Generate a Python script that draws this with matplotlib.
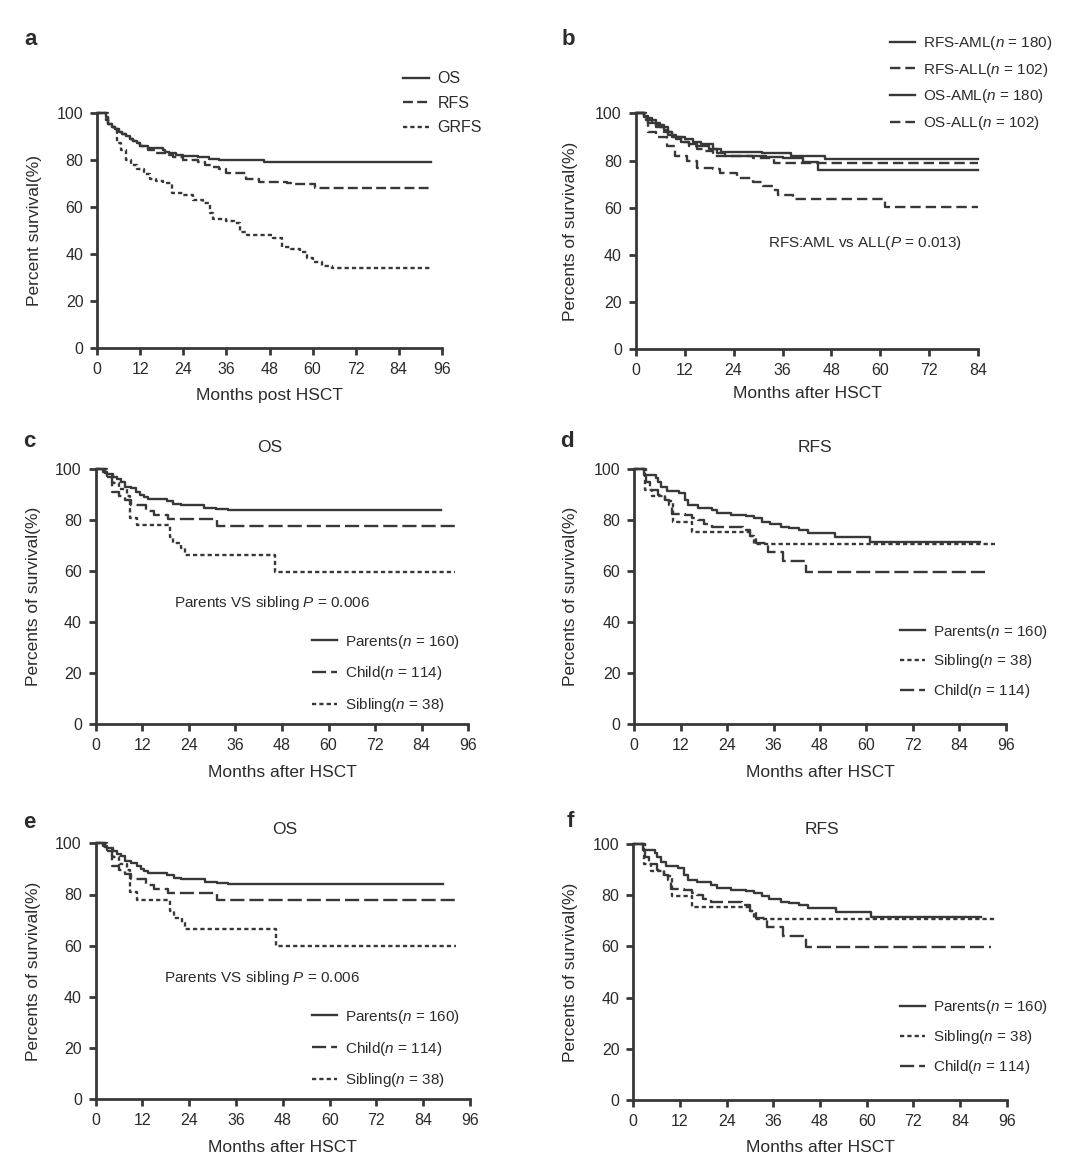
import matplotlib
matplotlib.use('Agg')
import matplotlib.pyplot as plt

# ---------------- data ----------------
# Panel a
a_os_t = [0, 2.5, 3, 4, 5, 6, 7, 8, 9, 10, 11, 12, 14, 18.4, 19, 20, 22, 24, 28, 31, 34, 46.5, 93]
a_os_s = [100, 98, 95, 94, 93, 92, 91, 90, 89, 88, 87, 86, 85, 84, 83.5, 83, 82, 81.5, 81, 80.5, 80, 79, 79]
a_rfs_t = [0, 2.5, 3, 4, 5, 6, 7, 8, 9, 10, 11, 12, 14, 16, 20, 21, 24, 28, 30, 32, 34, 36, 41.5, 45, 52.8, 55, 60.7, 93]
a_rfs_s = [100, 97, 95, 94, 93, 92, 91, 90, 89, 88, 87, 86, 84, 83, 82, 81, 80, 79, 78, 77, 76, 74.3, 72, 70.5, 70, 69.7, 68, 68]
a_grfs_t = [0, 3, 4, 5, 5.5, 6.5, 8, 9.5, 11, 13, 14.7, 16.5, 18.4, 20.7, 24, 26.8, 29.6, 31.5, 32.3, 36, 38,
            39.8, 41.6, 49, 51.4, 54, 56.5, 58.4, 60.2, 62.5, 65.3, 93]
a_grfs_s = [100, 95, 94, 93, 87, 84, 80, 78, 76, 74, 72, 71, 70, 66, 65, 63, 61.5, 57.5, 55, 54, 53,
            49.5, 48, 47, 43, 42, 41, 38.5, 36.5, 35, 34, 34]

# Panel b
b_os_aml_t = [0, 2, 3, 4, 5, 6, 7, 8, 9, 10, 12, 14, 16, 19, 21, 31, 38, 46.4, 84]
b_os_aml_s = [100, 99, 98, 97, 96, 95, 94, 92, 91, 90, 89, 88, 87, 85, 83.5, 83, 82, 80.5, 80.5]
b_rfs_aml_t = [0, 2, 3, 4, 5, 6, 7, 8, 9, 10, 11, 13, 15, 18, 20, 22, 32, 36, 41, 44.8, 84]
b_rfs_aml_s = [100, 98.5, 97, 96, 95, 94, 93, 91, 90, 89, 88, 87, 86, 85, 83, 82, 81.5, 81, 79.5, 76, 76]
b_os_all_t = [0, 2.5, 3, 5, 7, 9, 11, 13, 15, 17, 19, 28.8, 34, 84]
b_os_all_s = [100, 98, 96, 94, 92, 90, 88, 86, 85, 84, 82, 81, 79, 79]
b_rfs_all_t = [0, 2.5, 3.1, 5, 7.6, 9.6, 12.5, 15, 19, 20.7, 24.8, 28.8, 31.3, 33.7, 35, 38.6, 61.1, 84]
b_rfs_all_s = [100, 97, 92, 90, 86, 82, 80, 77, 76.5, 74.5, 72.5, 71, 69, 67.5, 65.5, 63.6, 60.5, 60.5]

# Panels c / e (OS by donor)
os_parents_t = [0, 2, 3, 4.5, 5.5, 6.5, 7.5, 9, 10.5, 11.5, 12.5, 13.5, 18.3, 20, 22, 28, 31, 34, 89]
os_parents_s = [100, 99, 98, 97, 96, 95, 93, 92.5, 91, 90, 89, 88.4, 87.5, 86.5, 86, 85, 84.5, 84, 84]
os_child_t = [0, 2.5, 4.1, 6, 7.5, 9, 13, 15, 18.5, 31.2, 92.5]
os_child_s = [100, 97, 91, 89.5, 88, 86, 83.6, 82, 80.4, 77.8, 77.8]
os_sibling_t = [0, 3, 4.5, 6, 8, 8.8, 10.6, 19.1, 20, 22.1, 23, 46.2, 92.5]
os_sibling_s = [100, 97.4, 94.7, 92.1, 89.5, 81, 78, 73.5, 71, 69, 66.5, 59.8, 59.8]

# Panels d / f (RFS by donor)
rfs_parents_t = [0, 2.5, 5.5, 6, 7, 8.5, 11.5, 13, 14, 16.5, 20, 21.5, 25, 29, 31, 33, 35, 38, 40, 42.5, 45, 52, 61, 89.4]
rfs_parents_s = [100, 97.8, 96.5, 95, 93, 91.5, 90.6, 88, 86, 85, 84, 83, 82, 81.5, 81, 79.5, 78.5, 77.5, 77, 76, 75, 73.5, 71.3, 71.3]
rfs_sibling_t = [0, 2.7, 4.5, 8, 10, 15, 30, 31, 93.3]
rfs_sibling_s = [100, 92, 89.5, 87.5, 79.5, 75.5, 74, 70.7, 70.7]
rfs_child_t = [0, 3, 4, 6, 8, 9, 9.8, 13, 15, 16.5, 18, 20, 28, 30, 31.5, 34.5, 38.5, 44.5, 92]
rfs_child_s = [100, 95, 92, 90, 88, 86, 82.3, 82, 81, 80, 78.5, 77.5, 76, 74, 71.2, 67.4, 64, 59.8, 59.8]

x_ticks_96 = [0, 12, 24, 36, 48, 60, 72, 84, 96]
x_ticks_84 = [0, 12, 24, 36, 48, 60, 72, 84]
y_ticks = [0, 20, 40, 60, 80, 100]

# ---------------- style ----------------
plt.rcParams.update({
    'font.family': ['Liberation Sans', 'DejaVu Sans'],
    'mathtext.fontset': 'custom',
    'mathtext.rm': 'Liberation Sans',
    'mathtext.it': 'Liberation Sans:italic',
    'mathtext.bf': 'Liberation Sans:bold',
})
W, H = 1080, 1157
fig = plt.figure(figsize=(W / 100, H / 100), dpi=100)
TXT = '#2b2b2b'
LINE = '#383838'
LW = 1.7
SOLID = '-'
DASH_A = (0, (4.2, 1.8))
DOT = (0, (1.8, 1.3))
DASH_B = (0, (4.4, 2.1))
DASH_LONG = (0, (6.0, 2.1))


def make_ax(x0, x1, ytop, ybot, xticks, xlabel, ylabel, ylab_x, xlab_top):
    ax = fig.add_axes([x0 / W, 1 - ybot / H, (x1 - x0) / W, (ybot - ytop) / H])
    ax.set_xlim(0, xticks[-1])
    ax.set_ylim(0, 100)
    for s in ['top', 'right']:
        ax.spines[s].set_visible(False)
    for s in ['left', 'bottom']:
        ax.spines[s].set_linewidth(2.0)
        ax.spines[s].set_color(LINE)
    ax.set_xticks(xticks)
    ax.set_yticks(y_ticks)
    ax.tick_params(direction='out', length=5, width=2.0, color=LINE,
                   labelsize=11.5, labelcolor=TXT, pad=5)
    ax.set_xlabel(xlabel, fontsize=12.5, color=TXT)
    ax.xaxis.set_label_coords(((x0 + x1) / 2) / W, 1 - xlab_top / H, transform=fig.transFigure)
    ax.set_ylabel(ylabel, fontsize=12.5, color=TXT)
    ax.yaxis.set_label_coords(ylab_x / W, 1 - ((ytop + ybot) / 2) / H, transform=fig.transFigure)
    return ax


def curve(ax, t, s, ls, label):
    ax.step(t, s, where='post', color=LINE, lw=LW, linestyle=ls, label=label, clip_on=False)


def leg(ax, x, y_first, y_last, fs, spacing):
    ax.legend(loc='center left', bbox_to_anchor=(x / W, 1 - ((y_first + y_last) / 2) / H),
              bbox_transform=fig.transFigure, frameon=False, borderpad=0, borderaxespad=0,
              handlelength=1.65, handletextpad=0.5, labelspacing=spacing, fontsize=fs,
              labelcolor=TXT)


def ftext(x, y, s, **kw):
    fig.text(x / W, 1 - y / H, s, color=TXT, **kw)


# ---- a ----
ax = make_ax(97.3, 441.7, 112.7, 348.3, x_ticks_96, 'Months post HSCT', 'Percent survival(%)', 42, 388)
curve(ax, a_os_t, a_os_s, SOLID, 'OS')
curve(ax, a_rfs_t, a_rfs_s, DASH_A, 'RFS')
curve(ax, a_grfs_t, a_grfs_s, DOT, 'GRFS')
leg(ax, 403, 76.7, 130, 11.5, 0.6)

# ---- b ----
ax = make_ax(635.7, 978.3, 113.3, 349.3, x_ticks_84, 'Months after HSCT', 'Percents of survival(%)', 578, 386)
curve(ax, b_rfs_aml_t, b_rfs_aml_s, SOLID, 'RFS-AML($n$ = 180)')
curve(ax, b_rfs_all_t, b_rfs_all_s, DASH_B, 'RFS-ALL($n$ = 102)')
curve(ax, b_os_aml_t, b_os_aml_s, SOLID, 'OS-AML($n$ = 180)')
curve(ax, b_os_all_t, b_os_all_s, DASH_B, 'OS-ALL($n$ = 102)')
leg(ax, 890, 43, 123, 11, 0.57)
ftext(768, 243, 'RFS:AML vs ALL($P$ = 0.013)', fontsize=11, ha='left', va='center')


def os_panel(x0, x1, ytop, ybot, ylab_x, xlab_top, leg_x, ly1, ly2, ann_x, ann_y):
    ax = make_ax(x0, x1, ytop, ybot, x_ticks_96, 'Months after HSCT', 'Percents of survival(%)', ylab_x, xlab_top)
    curve(ax, os_parents_t, os_parents_s, SOLID, 'Parents($n$ = 160)')
    curve(ax, os_child_t, os_child_s, DASH_LONG, 'Child($n$ = 114)')
    curve(ax, os_sibling_t, os_sibling_s, DOT, 'Sibling($n$ = 38)')
    leg(ax, leg_x, ly1, ly2, 11, 0.9)
    ftext(ann_x, ann_y, 'Parents VS sibling $P$ = 0.006', fontsize=11, ha='left', va='center')
    return ax


def rfs_panel(x0, x1, ytop, ybot, ylab_x, xlab_top, leg_x, ly1, ly2):
    ax = make_ax(x0, x1, ytop, ybot, x_ticks_96, 'Months after HSCT', 'Percents of survival(%)', ylab_x, xlab_top)
    curve(ax, rfs_parents_t, rfs_parents_s, SOLID, 'Parents($n$ = 160)')
    curve(ax, rfs_sibling_t, rfs_sibling_s, DOT, 'Sibling($n$ = 38)')
    curve(ax, rfs_child_t, rfs_child_s, DASH_LONG, 'Child($n$ = 114)')
    leg(ax, leg_x, ly1, ly2, 11, 0.78)
    return ax


os_panel(95.7, 468.3, 469.3, 724, 41, 765, 312, 642, 705, 174, 603)
rfs_panel(634.3, 1005.7, 469.3, 724, 578, 765, 900, 632, 691)
os_panel(95.7, 470, 843.3, 1099.3, 41, 1140, 312, 1017, 1080, 164, 978)
rfs_panel(633.3, 1006.7, 844, 1100, 578, 1140, 900, 1007, 1067)

# titles
ftext(270, 448, 'OS', fontsize=12.5, ha='center', va='center')
ftext(815, 448, 'RFS', fontsize=12.5, ha='center', va='center')
ftext(285, 829, 'OS', fontsize=12.5, ha='center', va='center')
ftext(822, 829, 'RFS', fontsize=12.5, ha='center', va='center')

# panel letters
for lx, ly, lt in [(24, 45, 'a'), (562, 45, 'b'), (23, 447, 'c'), (560, 447, 'd'), (23, 828, 'e'), (567, 827, 'f')]:
    ftext(lx, ly, lt, fontsize=16, fontweight='bold', ha='left', va='baseline')

fig.savefig('out.png', dpi=100, facecolor='white')
